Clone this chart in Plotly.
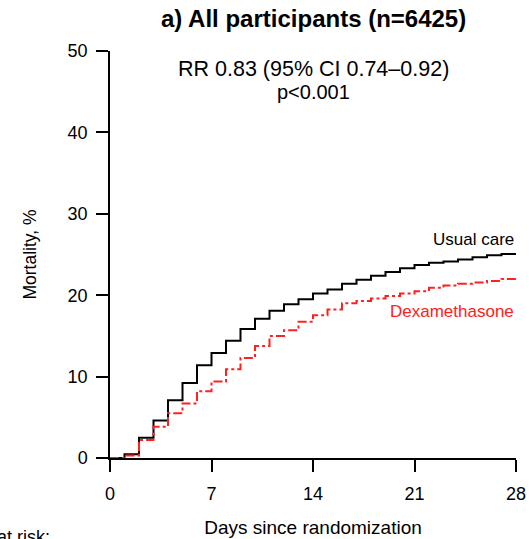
import plotly.graph_objects as go

days = list(range(0, 29))
usual_care = [0.0, 0.45, 2.5, 4.6, 7.1, 9.2, 11.4, 12.9, 14.4, 15.85, 17.1, 18.1, 18.9, 19.5,
              20.2, 20.7, 21.4, 21.9, 22.4, 22.85, 23.3, 23.7, 24.0, 24.15, 24.4, 24.65, 24.9, 25.05, 25.05]
dexamethasone = [0.0, 0.3, 2.2, 3.85, 5.5, 6.7, 8.2, 9.4, 10.9, 12.3, 13.75, 15.0, 15.7, 16.75,
                 17.55, 18.25, 19.0, 19.3, 19.6, 19.9, 20.2, 20.5, 20.9, 21.2, 21.4, 21.55, 21.75, 22.0, 22.0]
x_ticks = [0, 7, 14, 21, 28]
y_ticks = [0, 10, 20, 30, 40, 50]

FONT = "Liberation Sans, Arial, Helvetica, sans-serif"

fig = go.Figure()
fig.add_trace(go.Scatter(x=days, y=usual_care, mode="lines", line=dict(shape="hv", color="black", width=2),
                         name="Usual care", showlegend=False))
fig.add_trace(go.Scatter(x=days, y=dexamethasone, mode="lines",
                         line=dict(shape="hv", color="#ff2020", width=2, dash="dashdot"),
                         name="Dexamethasone", showlegend=False))

fig.update_layout(
    width=529, height=539,
    margin=dict(l=110, r=13, t=51, b=81),
    paper_bgcolor="white", plot_bgcolor="white",
    font=dict(family=FONT, size=18, color="black"),
    xaxis=dict(range=[0, 28], tickvals=x_ticks, showgrid=False, zeroline=False, automargin=False,
               showline=True, linecolor="black", linewidth=1.5, ticks="outside", ticklen=12,
               tickwidth=1.5, tickcolor="black", ticklabelstandoff=7, tickfont=dict(size=18),
               title=dict(text="Days since randomization", standoff=17, font=dict(size=19))),
    yaxis=dict(range=[0, 50], tickvals=y_ticks, showgrid=False, zeroline=False, automargin=False,
               showline=True, linecolor="black", linewidth=1.5, ticks="outside", ticklen=12,
               tickwidth=1.5, tickcolor="black", ticklabelstandoff=5, tickfont=dict(size=18),
               title=dict(text="Mortality, %", standoff=26, font=dict(size=17.5))),
    annotations=[
        dict(text="<b>a) All participants (n=6425)</b>", xref="paper", yref="paper", x=0.5, y=1,
             yshift=33, xanchor="center", yanchor="middle", showarrow=False, font=dict(size=24)),
        dict(text="RR 0.83 (95% CI 0.74\u20130.92)", xref="paper", yref="y", x=0.5, y=47.8,
             xanchor="center", yanchor="middle", showarrow=False, font=dict(size=21.5)),
        dict(text="p<0.001", xref="paper", yref="y", x=0.5, y=45.0,
             xanchor="center", yanchor="middle", showarrow=False, font=dict(size=20)),
        dict(text="Usual care", xref="x", yref="y", x=28, y=26.8,
             xanchor="right", yanchor="middle", showarrow=False, font=dict(size=17, color="black")),
        dict(text="Dexamethasone", xref="x", yref="y", x=28, y=18.05,
             xanchor="right", yanchor="middle", showarrow=False, font=dict(size=17, color="#ff2020")),
        dict(text="No. at risk:", xref="paper", yref="paper", x=0, y=0, xshift=-58, yshift=-79,
             xanchor="right", yanchor="middle", showarrow=False, font=dict(size=18)),
    ],
)

fig.write_html("out.html")
